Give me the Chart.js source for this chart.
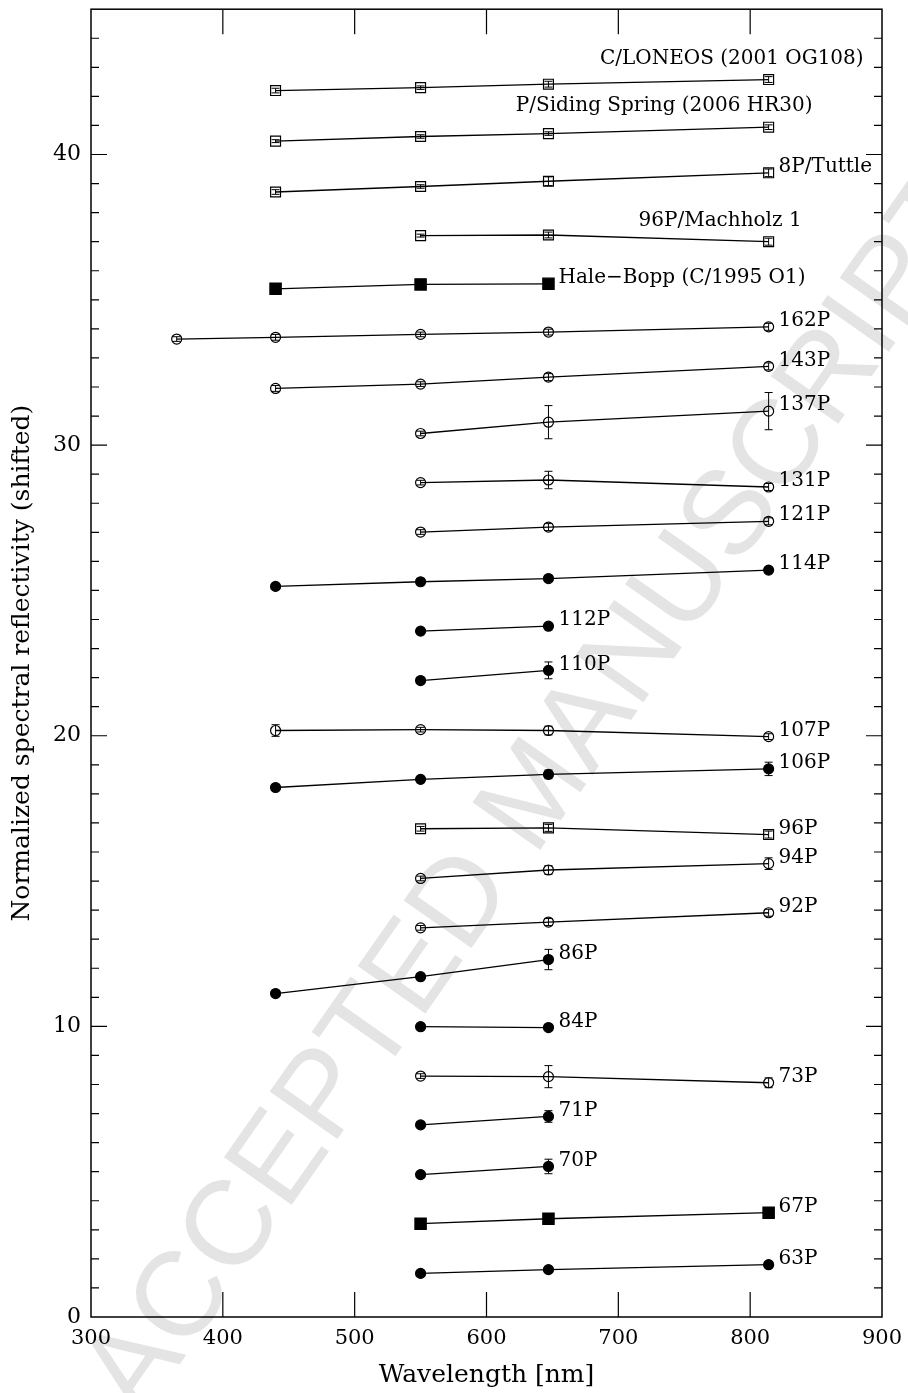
<!DOCTYPE html>
<html>
<head>
<meta charset="utf-8">
<script src="https://cdn.jsdelivr.net/npm/chart.js@4.4.1/dist/chart.umd.min.js"></script>
<style>
  html, body { margin: 0; padding: 0; background: #fff; }
  canvas { display: block; }
</style>
</head>
<body>
<canvas id="reflChart" width="908" height="1393"></canvas>
<script>
// Filter central wavelengths [nm]
const bandsUBVRI = [365, 440, 550, 647, 814];
const bandsBVRI = [440, 550, 647, 814];
const bandsBVR = [440, 550, 647];
const bandsVRI = [550, 647, 814];
const bandsVR = [550, 647];

// Normalized reflectivity (shifted per comet) and 1-sigma errors
const reflLoneos = [42.20, 42.30, 42.42, 42.58];
const errLoneos = [0.08, 0.06, 0.10, 0.10];
const reflSidingSpring = [40.46, 40.62, 40.72, 40.94];
const errSidingSpring = [0.05, 0.06, 0.06, 0.08];
const refl8P = [38.71, 38.90, 39.08, 39.37];
const err8P = [0.08, 0.06, 0.15, 0.13];
const reflMachholz = [37.21, 37.23, 37.00];
const errMachholz = [0.05, 0.10, 0.12];
const reflHaleBopp = [35.38, 35.53, 35.55];
const errHaleBopp = [0, 0, 0];
const refl162P = [33.65, 33.71, 33.81, 33.89, 34.07];
const err162P = [0.08, 0.10, 0.08, 0.10, 0.12];
const refl143P = [31.95, 32.10, 32.34, 32.71];
const err143P = [0.10, 0.08, 0.12, 0.12];
const refl137P = [30.40, 30.79, 31.17];
const err137P = [0.08, 0.57, 0.64];
const refl131P = [28.71, 28.80, 28.56];
const err131P = [0.08, 0.30, 0.12];
const refl121P = [27.01, 27.18, 27.38];
const err121P = [0.08, 0.12, 0.12];
const refl114P = [25.14, 25.30, 25.41, 25.70];
const err114P = [0.05, 0.05, 0.05, 0.08];
const refl112P = [23.60, 23.77];
const err112P = [0.05, 0.05];
const refl110P = [21.90, 22.25];
const err110P = [0.05, 0.29];
const refl107P = [20.18, 20.21, 20.18, 19.97];
const err107P = [0.20, 0.08, 0.15, 0.10];
const refl106P = [18.22, 18.50, 18.67, 18.86];
const err106P = [0.05, 0.05, 0.15, 0.23];
const refl96P = [16.80, 16.83, 16.60];
const err96P = [0.08, 0.12, 0.12];
const refl94P = [15.09, 15.38, 15.60];
const err94P = [0.08, 0.15, 0.20];
const refl92P = [13.39, 13.59, 13.91];
const err92P = [0.08, 0.12, 0.12];
const refl86P = [11.13, 11.71, 12.30];
const err86P = [0.05, 0.05, 0.35];
const refl84P = [9.99, 9.96];
const err84P = [0.05, 0.05];
const refl73P = [8.29, 8.27, 8.06];
const err73P = [0.08, 0.38, 0.17];
const refl71P = [6.61, 6.90];
const err71P = [0.05, 0.20];
const refl70P = [4.90, 5.18];
const err70P = [0.05, 0.25];
const refl67P = [3.21, 3.38, 3.59];
const err67P = [0.05, 0.05, 0.05];
const refl63P = [1.50, 1.63, 1.80];
const err63P = [0.05, 0.05, 0.05];

const comets = [
  { name: "C/LONEOS (2001 OG108)", wl: bandsBVRI, refl: reflLoneos, err: errLoneos },
  { name: "P/Siding Spring (2006 HR30)", wl: bandsBVRI, refl: reflSidingSpring, err: errSidingSpring },
  { name: "8P/Tuttle", wl: bandsBVRI, refl: refl8P, err: err8P },
  { name: "96P/Machholz 1", wl: bandsVRI, refl: reflMachholz, err: errMachholz },
  { name: "Hale\u2212Bopp (C/1995 O1)", wl: bandsBVR, refl: reflHaleBopp, err: errHaleBopp },
  { name: "162P", wl: bandsUBVRI, refl: refl162P, err: err162P },
  { name: "143P", wl: bandsBVRI, refl: refl143P, err: err143P },
  { name: "137P", wl: bandsVRI, refl: refl137P, err: err137P },
  { name: "131P", wl: bandsVRI, refl: refl131P, err: err131P },
  { name: "121P", wl: bandsVRI, refl: refl121P, err: err121P },
  { name: "114P", wl: bandsBVRI, refl: refl114P, err: err114P },
  { name: "112P", wl: bandsVR, refl: refl112P, err: err112P },
  { name: "110P", wl: bandsVR, refl: refl110P, err: err110P },
  { name: "107P", wl: bandsBVRI, refl: refl107P, err: err107P },
  { name: "106P", wl: bandsBVRI, refl: refl106P, err: err106P },
  { name: "96P", wl: bandsVRI, refl: refl96P, err: err96P },
  { name: "94P", wl: bandsVRI, refl: refl94P, err: err94P },
  { name: "92P", wl: bandsVRI, refl: refl92P, err: err92P },
  { name: "86P", wl: bandsBVR, refl: refl86P, err: err86P },
  { name: "84P", wl: bandsVR, refl: refl84P, err: err84P },
  { name: "73P", wl: bandsVRI, refl: refl73P, err: err73P },
  { name: "71P", wl: bandsVR, refl: refl71P, err: err71P },
  { name: "70P", wl: bandsVR, refl: refl70P, err: err70P },
  { name: "67P", wl: bandsVRI, refl: refl67P, err: err67P },
  { name: "63P", wl: bandsVRI, refl: refl63P, err: err63P },
];

// marker per comet: open/filled square or circle
const openSquares = ["C/LONEOS (2001 OG108)", "P/Siding Spring (2006 HR30)", "8P/Tuttle", "96P/Machholz 1", "96P"];
const filledSquares = ["Hale\u2212Bopp (C/1995 O1)", "67P"];
const filledCircles = ["114P", "112P", "110P", "106P", "86P", "84P", "71P", "70P", "63P"];

function markerFor(name) {
  if (openSquares.includes(name)) return { style: "rect", radius: 7, fill: "rgba(0,0,0,0)" };
  if (filledSquares.includes(name)) return { style: "rect", radius: 8, fill: "#000" };
  if (filledCircles.includes(name)) return { style: "circle", radius: 5, fill: "#000" };
  return { style: "circle", radius: 5, fill: "rgba(0,0,0,0)" };
}

// where each name sits relative to the comet's last point
const labelOffsets = {
  "C/LONEOS (2001 OG108)": { dx: 95, dy: -21, align: "right" },
  "P/Siding Spring (2006 HR30)": { dx: 44, dy: -21, align: "right" },
  "96P/Machholz 1": { dx: 33, dy: -21, align: "right" },
};
const defaultOffset = { dx: 10, dy: -6, align: "left" };

const SERIF = "'DejaVu Serif', 'Liberation Serif', serif";

const datasets = comets.map((c) => {
  const m = markerFor(c.name);
  return {
    label: c.name,
    data: c.wl.map((w, i) => ({ x: w, y: c.refl[i] })),
    showLine: true,
    borderColor: "#000",
    borderWidth: 1.3,
    pointStyle: m.style,
    pointRadius: m.radius,
    pointBackgroundColor: m.fill,
    pointBorderColor: "#000",
    pointBorderWidth: 1.2,
  };
});

// light diagonal stamp, underneath everything else
const watermark = {
  id: "watermark",
  beforeDraw(chart) {
    const { ctx } = chart;
    ctx.save();
    ctx.translate(538, 795);
    ctx.rotate(-55 * Math.PI / 180);
    ctx.font = "120px 'Liberation Sans', Arial, sans-serif";
    ctx.fillStyle = "#e4e4e4";
    ctx.textAlign = "center";
    ctx.textBaseline = "middle";
    ctx.fillText("ACCEPTED MANUSCRIPT", 0, 0);
    ctx.restore();
  },
};

const errorBars = {
  id: "errorBars",
  afterDatasetsDraw(chart) {
    const { ctx, scales: { x, y } } = chart;
    ctx.save();
    ctx.strokeStyle = "#000";
    ctx.lineWidth = 1;
    comets.forEach((c) => {
      c.wl.forEach((w, i) => {
        const e = c.err[i];
        if (!e) return;
        const px = x.getPixelForValue(w);
        const top = y.getPixelForValue(c.refl[i] + e);
        const bot = y.getPixelForValue(c.refl[i] - e);
        ctx.beginPath();
        ctx.moveTo(px, top); ctx.lineTo(px, bot);
        ctx.moveTo(px - 4, top); ctx.lineTo(px + 4, top);
        ctx.moveTo(px - 4, bot); ctx.lineTo(px + 4, bot);
        ctx.stroke();
      });
    });
    ctx.restore();
  },
};

const cometLabels = {
  id: "cometLabels",
  afterDatasetsDraw(chart) {
    const { ctx, scales: { x, y } } = chart;
    ctx.save();
    ctx.font = "20px " + SERIF;
    ctx.fillStyle = "#000";
    ctx.textBaseline = "middle";
    comets.forEach((c) => {
      const last = c.wl.length - 1;
      const off = labelOffsets[c.name] || defaultOffset;
      ctx.textAlign = off.align;
      ctx.fillText(c.name, x.getPixelForValue(c.wl[last]) + off.dx, y.getPixelForValue(c.refl[last]) + off.dy);
    });
    ctx.restore();
  },
};

// box with inward ticks on all four sides
const frame = {
  id: "frame",
  afterDraw(chart) {
    const { ctx, chartArea: a, scales: { x, y } } = chart;
    ctx.save();
    ctx.strokeStyle = "#000";
    ctx.lineWidth = 1.5;
    ctx.strokeRect(a.left, a.top, a.right - a.left, a.bottom - a.top);
    ctx.lineWidth = 1.2;
    ctx.beginPath();
    for (let v = 1; v < 45; v++) {
      const py = y.getPixelForValue(v);
      const len = v % 10 === 0 ? 16 : 8;
      ctx.moveTo(a.left, py); ctx.lineTo(a.left + len, py);
      ctx.moveTo(a.right, py); ctx.lineTo(a.right - len, py);
    }
    for (let w = 400; w < 900; w += 100) {
      const px = x.getPixelForValue(w);
      ctx.moveTo(px, a.bottom); ctx.lineTo(px, a.bottom - 25);
      ctx.moveTo(px, a.top); ctx.lineTo(px, a.top + 25);
    }
    ctx.stroke();
    ctx.restore();
  },
};

new Chart(document.getElementById("reflChart"), {
  type: "scatter",
  data: { datasets },
  plugins: [watermark, errorBars, cometLabels, frame],
  options: {
    responsive: false,
    animation: false,
    layout: { padding: { left: 0, right: 26, top: 8, bottom: 0 } },
    plugins: { legend: { display: false }, tooltip: { enabled: false } },
    scales: {
      x: {
        type: "linear",
        min: 300,
        max: 900,
        grid: { display: false, drawTicks: false },
        border: { display: false },
        ticks: { stepSize: 100, padding: 9, color: "#000", font: { family: SERIF, size: 21 } },
        title: {
          display: true,
          text: "Wavelength [nm]",
          color: "#000",
          font: { family: SERIF, size: 25 },
          padding: { top: 0, bottom: 3 },
        },
        afterFit(s) { s.height = 76; s.paddingLeft = 0; s.paddingRight = 0; },
      },
      y: {
        type: "linear",
        min: 0,
        max: 45,
        grid: { display: false, drawTicks: false },
        border: { display: false },
        ticks: { stepSize: 10, padding: 10, color: "#000", font: { family: SERIF, size: 22 } },
        afterBuildTicks(s) { s.ticks = s.ticks.filter((t) => t.value % 10 === 0); },
        title: {
          display: true,
          text: "Normalized spectral reflectivity (shifted)",
          color: "#000",
          font: { family: SERIF, size: 25 },
          padding: { top: 7, bottom: 0 },
        },
        afterFit(s) { s.width = 91; s.paddingTop = 0; s.paddingBottom = 0; },
      },
    },
  },
});
</script>
</body>
</html>
